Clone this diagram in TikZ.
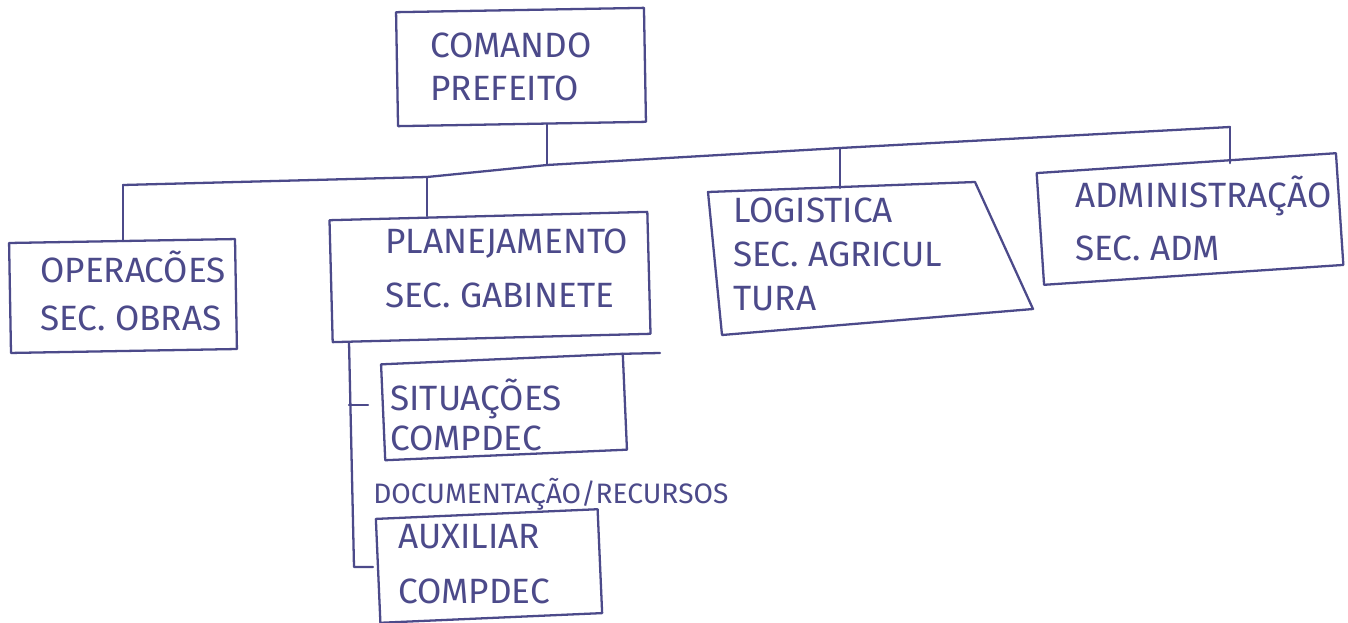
\documentclass[tikz,border=0pt]{standalone}
\usepackage{fontspec}
\setmainfont{Fira Sans}
\definecolor{inkc}{HTML}{4C4A8A}
\newcommand\mystrut{\rule{0pt}{20pt}}
\begin{document}
\begin{tikzpicture}[x=0.02cm, y=-0.02cm,
  box/.style={draw=inkc, line width=1.3pt, inner sep=0pt, outer sep=0pt, line join=round},
  link/.style={draw=inkc, line width=1.3pt, line cap=round, line join=round},
  lbl/.style={text=inkc, inner sep=0pt, anchor=north west, align=left, font=\fontsize{20pt}{#1}\selectfont},
  note/.style={text=inkc, inner sep=0pt, anchor=base west, font=\fontsize{16pt}{19pt}\selectfont}
]
\useasboundingbox (0,0) rectangle (1348,622);
\fill[white] (0,0) rectangle (1348,622);

% boxes
\node[box, minimum width=4.96cm, minimum height=2.28cm, rotate=1] (cmd) at (521,67) {};
\node[box, minimum width=4.52cm, minimum height=2.2cm, rotate=1] (op) at (123,296) {};
\node[box, minimum width=6.36cm, minimum height=2.44cm, rotate=1.5] (plan) at (490,277) {};
\node[box, minimum width=6.0cm, minimum height=2.24cm, rotate=3.8] (adm) at (1190,219) {};
\node[box, minimum width=4.84cm, minimum height=1.92cm, rotate=2.5] (sit) at (504,407) {};
\node[box, minimum width=4.44cm, minimum height=2.08cm, rotate=2.5] (aux) at (489,566) {};

% LOGISTICA: hand-drawn trapezoid
\coordinate (lTL) at (708,192);
\coordinate (lTR) at (975,182);
\coordinate (lBR) at (1033,309);
\coordinate (lBL) at (722,335);
\coordinate (lTop) at (840,188);
\draw[box] (lTL) -- (lTR) -- (lBR) -- (lBL) -- cycle;

% texts
\node[lbl=24.5pt] (cmdT) at (430,22) {\mystrut COMANDO\\PREFEITO};
\node[lbl=27.3pt] (opT) at (40,247) {\mystrut OPERACÕES\\SEC. OBRAS};
\node[lbl=30.7pt] (planT) at (385,218) {\mystrut PLANEJAMENTO\\SEC. GABINETE};
\node[lbl=25pt] (logT) at (733,187) {\mystrut LOGISTICA\\SEC. AGRICUL\\TURA};
\node[lbl=30.2pt] (admT) at (1075,172) {\mystrut ADMINISTRAÇÃO\\SEC. ADM};
\node[lbl=22.8pt] (sitT) at (390,375) {\mystrut SITUAÇÕES\\COMPDEC};
\node[lbl=31.3pt] (auxT) at (398,513) {\mystrut AUXILIAR\\COMPDEC};
\node[note] (docT) at (373,503) {DOCUMENTAÇÃO/RECURSOS};

% bus coordinates
\coordinate (bL) at (123,185);
\coordinate (bP) at (427,177);
\coordinate (bC) at (547,165);
\coordinate (bG) at (840,148);
\coordinate (bR) at (1230,127);

\draw[link] (bC |- cmd.south) -- (bC);
\draw[link] (bL) -- (bP) -- (bC) -- (bG) -- (bR);
\draw[link] (bL) -- (bL |- op.north);
\draw[link] (bP) -- (bP |- plan.north);
\draw[link] (bG) -- (lTop);
\draw[link] (bR) -- (bR |- adm.north);

% sub-bracket under PLANEJAMENTO
\coordinate (brTop) at (349,342);
\coordinate (brBot) at (354,567);
\coordinate (tk1) at (368,405);
\coordinate (tk2) at (373,567);
\coordinate (sitExt) at (660,353);
\draw[link] (brTop) -- (brBot) -- (tk2);
\draw[link] (brTop |- tk1) -- (tk1);
\draw[link] (sit.north east) -- (sitExt);
\end{tikzpicture}
\end{document}
